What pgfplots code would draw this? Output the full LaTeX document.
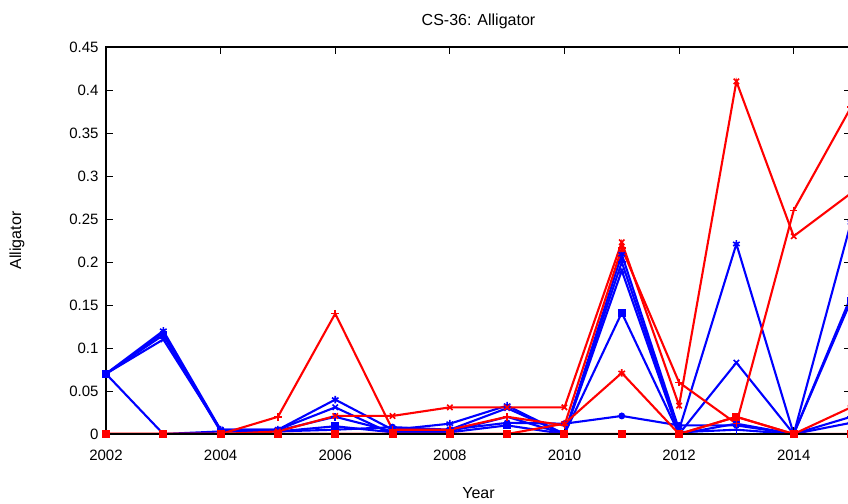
\documentclass[border=0pt]{standalone}
\usepackage{fontspec}
\setmainfont{Liberation Sans}
\usepackage{pgfplots}
\pgfplotsset{compat=1.18}
\definecolor{mred}{RGB}{255,0,0}
\definecolor{mblue}{RGB}{0,0,255}
\begin{document}
\begin{tikzpicture}
\useasboundingbox (-106pt,-69pt) rectangle (742pt,434pt);
\begin{axis}[
  at={(0,0)}, anchor=south west,
  scale only axis, width=745pt, height=387pt,
  xmin=2002, xmax=2015, ymin=0, ymax=0.45,
  xtick={2002,2004,2006,2008,2010,2012,2014},
  ytick={0,0.05,0.1,0.15,0.2,0.25,0.3,0.35,0.4,0.45},
  yticklabels={0,0.05,0.1,0.15,0.2,0.25,0.3,0.35,0.4,0.45},
  xticklabels={2002,2004,2006,2008,2010,2012,2014},
  tick align=inside, major tick length=7pt,
  tick style={black, line width=1pt},
  axis line style={black, line width=1.5pt},
  tick pos=both,
  axis on top,
  font=\fontsize{15}{17}\selectfont,
  title={CS-36: Alligator},
  title style={font=\fontsize{16}{18}\selectfont, yshift=9pt},
  xlabel={Year}, ylabel={Alligator},
  xlabel style={font=\fontsize{16}{18}\selectfont, yshift=-20pt},
  ylabel style={font=\fontsize{16}{18}\selectfont, yshift=38pt},
  yticklabel style={xshift=-4pt},
  xticklabel style={yshift=-12pt},
  every axis plot/.append style={line width=2.1pt, mark size=3.8pt, mark options={solid, line width=1.6pt}},
  clip=true,
]
% ---- blue series ----
\addplot[mblue, mark=asterisk] coordinates {
(2002,0.07)(2003,0.12)(2004,0.005)(2005,0.005)(2006,0.04)(2007,0.005)(2008,0.012)(2009,0.033)(2010,0.0)(2011,0.209)(2012,0.005)(2013,0.221)(2014,0.0)(2015,0.246)};
\addplot[mblue, mark=x] coordinates {
(2002,0.07)(2003,0.11)(2004,0.005)(2005,0.005)(2006,0.031)(2007,0.0)(2008,0.005)(2009,0.03)(2010,0.0)(2011,0.19)(2012,0.0)(2013,0.083)(2014,0.0)(2015,0.16)};
\addplot[mblue, mark=square*, mark size=3pt] coordinates {
(2002,0.07)(2003,0.115)(2004,0.003)(2005,0.003)(2006,0.009)(2007,0.002)(2008,0.002)(2009,0.01)(2010,0.0)(2011,0.141)(2012,0.0)(2013,0.012)(2014,0.0)(2015,0.155)};
\addplot[mblue, mark=*, mark size=2.6pt] coordinates {
(2002,0.07)(2003,0.0)(2004,0.003)(2005,0.003)(2006,0.005)(2007,0.008)(2008,0.005)(2009,0.013)(2010,0.012)(2011,0.021)(2012,0.01)(2013,0.01)(2014,0.0)(2015,0.013)};
\addplot[mblue, mark=+] coordinates {
(2002,0.07)(2003,0.118)(2004,0.004)(2005,0.004)(2006,0.02)(2007,0.003)(2008,0.003)(2009,0.02)(2010,0.0)(2011,0.2)(2012,0.002)(2013,0.005)(2014,0.0)(2015,0.02)};
% ---- red series ----
\addplot[mred, mark=+] coordinates {
(2002,0.0)(2003,0.0)(2004,0.0)(2005,0.02)(2006,0.14)(2007,0.005)(2008,0.005)(2009,0.02)(2010,0.01)(2011,0.216)(2012,0.06)(2013,0.012)(2014,0.26)(2015,0.38)};
\addplot[mred, mark=x] coordinates {
(2002,0.0)(2003,0.0)(2004,0.0)(2005,0.003)(2006,0.021)(2007,0.021)(2008,0.031)(2009,0.031)(2010,0.031)(2011,0.223)(2012,0.033)(2013,0.41)(2014,0.23)(2015,0.28)};
\addplot[mred, mark=asterisk] coordinates {
(2002,0.0)(2003,0.0)(2004,0.0)(2005,0.0)(2006,0.0)(2007,0.0)(2008,0.0)(2009,0.0)(2010,0.012)(2011,0.071)(2012,0.0)(2013,0.02)(2014,0.0)(2015,0.031)};
\addplot[mred, mark=square*, mark size=3.2pt] coordinates {
(2002,0.0)(2003,0.0)(2004,0.0)(2005,0.0)(2006,0.0)(2007,0.0)(2008,0.0)(2009,0.0)(2010,0.0)(2011,0.0)(2012,0.0)(2013,0.02)(2014,0.0)(2015,0.0)};
\end{axis}
\end{tikzpicture}
\end{document}
